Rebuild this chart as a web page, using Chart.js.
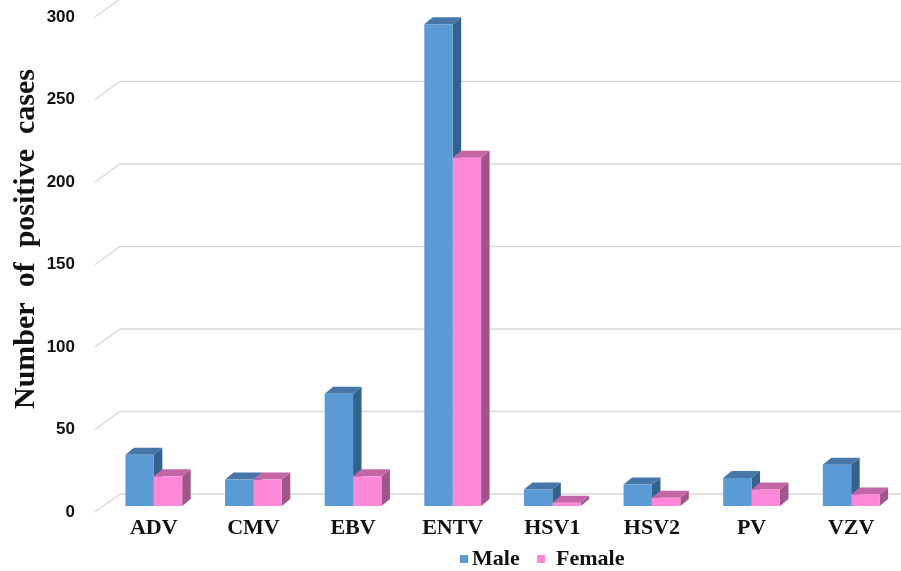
<!DOCTYPE html>
<html><head><meta charset="utf-8">
<script src="https://cdn.jsdelivr.net/npm/chart.js@4.4.1/dist/chart.umd.min.js"></script>
<style>html,body{margin:0;padding:0;background:#fff;}</style>
</head><body>
<canvas id="c" width="901" height="571"></canvas>
<script>
const categories = ['ADV', 'CMV', 'EBV', 'ENTV', 'HSV1', 'HSV2', 'PV', 'VZV'];
const maleValues = [31, 16, 68, 292, 10, 13, 17, 25];
const femaleValues = [18, 16, 18, 211, 2, 5, 10, 7];
const seriesNames = ['Male', 'Female'];
const yTickValues = [0, 50, 100, 150, 200, 250, 300];
const yTitle = 'Number  of  positive  cases';

const frontColors = ['#5B9BD5', '#FF88DB'];
const topColors = ['#4677A8', '#C465A5'];
const sideColors = ['#33628C', '#A0568A'];
const DX = 8.5, DY = 7;
const legendBoxX = [460, 537];
const legendTextGap = [12, 19];

const depthPlugin = {
  id: 'depth3d',
  beforeDatasetsDraw(chart) {
    const ctx = chart.ctx, ys = chart.scales.y, area = chart.chartArea;
    ctx.save();
    ctx.strokeStyle = '#D9D9D9';
    ctx.lineWidth = 1.5;
    yTickValues.forEach(v => {
      const py = ys.getPixelForValue(v);
      ctx.beginPath();
      ctx.moveTo(area.left - 9, py + 6);
      ctx.lineTo(area.left + 16, py - 12);
      ctx.lineTo(chart.width, py - 12);
      ctx.stroke();
    });
    chart.data.datasets.forEach((ds, i) => {
      const meta = chart.getDatasetMeta(i);
      meta.data.forEach(bar => {
        const p = bar.getProps(['x', 'y', 'base', 'width'], true);
        const l = p.x - p.width / 2, r = p.x + p.width / 2, t = p.y, b = p.base;
        ctx.fillStyle = sideColors[i];
        ctx.beginPath();
        ctx.moveTo(r, t); ctx.lineTo(r + DX, t - DY); ctx.lineTo(r + DX, b - DY); ctx.lineTo(r, b);
        ctx.closePath(); ctx.fill();
        ctx.fillStyle = topColors[i];
        ctx.beginPath();
        ctx.moveTo(l, t); ctx.lineTo(r, t); ctx.lineTo(r + DX, t - DY); ctx.lineTo(l + DX, t - DY);
        ctx.closePath(); ctx.fill();
      });
    });
    ctx.restore();
  },
  afterDraw(chart) {
    const ctx = chart.ctx;
    ctx.save();
    ctx.fillStyle = '#111';
    ctx.font = 'bold 30px "Liberation Serif"';
    ctx.textAlign = 'center';
    ctx.textBaseline = 'middle';
    ctx.translate(26, 239);
    ctx.rotate(-Math.PI / 2);
    ctx.fillText(yTitle, 0, 0);
    ctx.restore();
    ctx.save();
    ctx.font = 'bold 22px "Liberation Serif"';
    ctx.textAlign = 'left';
    ctx.textBaseline = 'middle';
    const ly = 559;
    seriesNames.forEach((name, i) => {
      const lx = legendBoxX[i];
      ctx.fillStyle = frontColors[i];
      ctx.fillRect(lx, ly - 4, 8, 8);
      ctx.fillStyle = '#111';
      ctx.fillText(name, lx + legendTextGap[i], ly);
    });
    ctx.restore();
  }
};

new Chart(document.getElementById('c'), {
  type: 'bar',
  data: {
    labels: categories,
    datasets: [
      { label: seriesNames[0], data: maleValues, backgroundColor: frontColors[0], borderWidth: 0 },
      { label: seriesNames[1], data: femaleValues, backgroundColor: frontColors[1], borderWidth: 0 }
    ]
  },
  options: {
    responsive: false,
    animation: false,
    events: [],
    layout: { padding: { top: 11, right: 0, left: 0, bottom: 31 } },
    datasets: { bar: { categoryPercentage: 0.57, barPercentage: 1.0 } },
    plugins: {
      tooltip: { enabled: false },
      legend: { display: false }
    },
    scales: {
      x: {
        grid: { display: false, drawTicks: false },
        border: { display: false },
        afterFit: s => { s.height = 34; s.paddingLeft = 0; s.paddingRight = 0; },
        ticks: { padding: 9, color: '#111', font: { family: 'Liberation Serif', weight: 'bold', size: 22 } }
      },
      y: {
        min: 0, max: 300,
        grid: { display: false, drawTicks: false },
        border: { display: false },
        afterFit: s => { s.width = 104; s.paddingTop = 0; s.paddingBottom = 0; },
        ticks: {
          stepSize: 50, labelOffset: 6, padding: 29, color: '#111',
          font: { family: 'Liberation Sans', weight: 'bold', size: 17 }
        }
      }
    }
  },
  plugins: [depthPlugin]
});
</script>
</body></html>
